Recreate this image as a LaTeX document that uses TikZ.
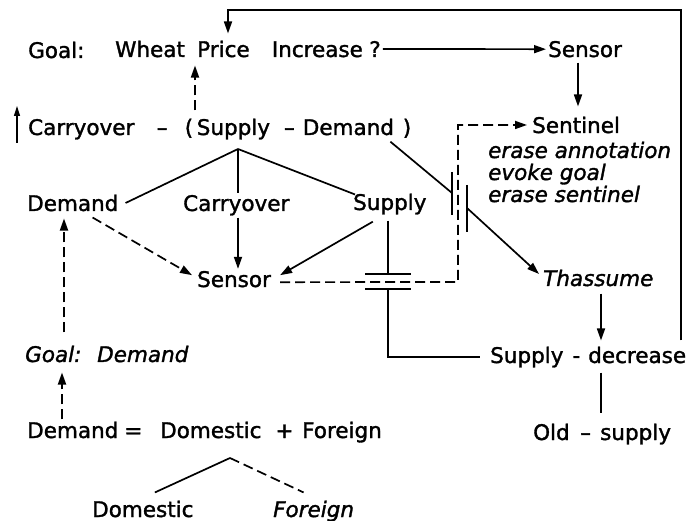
\documentclass[tikz,border=0pt]{standalone}
\usepackage{fontspec}
\setmainfont{DejaVu Sans}[ItalicFont={DejaVu Sans Oblique},FakeBold=1.5,AutoFakeBold=0]
\usetikzlibrary{arrows.meta}
\begin{document}
\begin{tikzpicture}[x=1pt,y=-1pt,
  txt/.style={inner sep=2pt, anchor=base west, font=\fontsize{21.5}{24}\selectfont},
  itx/.style={txt, font=\fontsize{21.5}{24}\selectfont\itshape},
  ln/.style={line width=1.7pt},
  arrtip/.style={-{Triangle[length=12pt,width=8pt]}},
  arr/.style={ln,arrtip},
  dsh/.style={ln,dash pattern=on 10pt off 5pt},
  darr/.style={dsh,arrtip},
  plate/.style={line width=2.3pt}]
\fill[white] (0,0) rectangle (691,521);
\useasboundingbox (0,0) rectangle (691,521);

% texts
\node[txt] (goal) at (26,58) {Goal:};
\node[txt] (wpi) at (113,57) {Wheat\hspace{12.3pt}Price\hspace{22.2pt}Increase\hspace{6.5pt}?};
\node[txt] (sensorA) at (546,57) {Sensor};
\node[txt] (expr) at (26,135) {Carryover\hspace{22.5pt}–\hspace{17.2pt}(\hspace{3.6pt}Supply\hspace{14pt}–\hspace{8pt}Demand\hspace{8.8pt})};
\node[txt] (sentinel) at (530,133) {Sentinel};
\node[itx] (an1) at (486,158) {erase annotation};
\node[itx] (an2) at (486,180) {evoke goal};
\node[itx] (an3) at (486,202) {erase sentinel};
\node[txt] (demand) at (25,211) {Demand};
\node[txt] (carry) at (181,211) {Carryover};
\node[txt] (supply) at (351,210) {Supply};
\node[txt] (sensorB) at (195,287) {Sensor};
\node[itx] (thassume) at (541,286) {Thassume};
\node[txt] (supdec) at (488,363) {Supply\hspace{9pt}-\hspace{8pt}decrease};
\node[itx] (goaldem) at (23,362) {Goal:\hspace{15.8pt}Demand};
\node[txt] (demeq) at (25,438) {Demand\hspace{6pt}=\hspace{17.8pt}Domestic\hspace{14pt}+\hspace{8.7pt}Foreign};
\node[txt] (oldsup) at (531,440) {Old\hspace{10.5pt}–\hspace{9.2pt}supply};
\node[txt] (dom2) at (90,517) {Domestic};
\node[itx] (forn2) at (271,517) {Foreign};

% helper coordinates
\coordinate (fL) at (228,10);
\coordinate (fR) at (681,10);
\coordinate (colS) at (578,0);
\coordinate (colP) at (195,0);
\coordinate (uA) at (17,106);
\coordinate (uB) at (17,143);
\coordinate (j1) at (238,149);
\coordinate (cBR) at (458,282);
\coordinate (c1t) at (388,274);
\coordinate (c1b) at (388,289);
\coordinate (p1) at (452,193);
\coordinate (p2) at (467,208);
\coordinate (colT) at (601,0);
\coordinate (colG) at (64,0);
\coordinate (colH) at (62,0);
\coordinate (j2) at (230,458);

% connectors
\draw[arr, shorten <=4pt, shorten >=5pt] (supdec.north -| fR) -- (fR) -- (fL) -- (fL |- wpi.north);
\draw[arr] (wpi.east) -- (sensorA.west);
\draw[arr, shorten <=3pt, shorten >=8pt] (sensorA.south -| colS) -- (sentinel.north -| colS);
\draw[darr, shorten <=6pt, shorten >=6pt] (expr.north -| colP) -- (wpi.south -| colP);
\draw[ln, line width=1.3pt, -{Triangle[length=10pt,width=6pt]}] (uB) -- (uA);

\draw[ln] (j1) -- ([xshift=5pt]demand.east);
\draw[ln] (j1) -- (j1 |- carry.north);
\draw[ln] (j1) -- ([shift={(4,3)}]supply.north west);
\draw[arr] (carry.south -| j1) -- (sensorB.north -| j1);
\draw[darr] ([shift={(-28,4)}]demand.south east) -- ([shift={(-3,-4)}]sensorB.west);
\draw[arr] ([shift={(-17,5)}]supply.south) -- ([shift={(7,-4)}]sensorB.east);
\draw[darr] ([shift={(7,3)}]sensorB.east) -- (cBR) -- (cBR |- sentinel.west) -- ([xshift=-3pt]sentinel.west);

% capacitor 1
\draw[ln, shorten <=4pt] (c1t |- supply.south) -- (c1t);
\draw[plate] ([xshift=-23pt]c1t) -- ([xshift=23pt]c1t);
\draw[plate] ([xshift=-23pt]c1b) -- ([xshift=23pt]c1b);
\draw[ln, shorten >=8pt] (c1b) |- (supdec.west);

% capacitor 2
\draw[ln] ([xshift=-23pt]expr.south east) -- (p1);
\draw[plate] ([yshift=21pt]p1) -- ([yshift=-22pt]p1);
\draw[plate] ([yshift=23pt]p2) -- ([yshift=-24pt]p2);
\draw[arr] (p2) -- ([shift={(-2,-4)}]thassume.west);

\draw[arr, shorten <=5pt, shorten >=4pt] (thassume.south -| colT) -- (supdec.north -| colT);
\draw[ln, shorten <=3pt, shorten >=8pt] (supdec.south -| colT) -- (oldsup.north -| colT);

\draw[darr, shorten <=11pt, shorten >=5pt] (goaldem.north -| colG) -- (demand.south -| colG);
\draw[darr, shorten >=8pt] (demeq.north -| colH) -- (goaldem.south -| colH);

\draw[ln] (j2) -- ([shift={(12,-6)}]dom2.north);
\draw[dsh] (j2) -- ([shift={(-10,-6)}]forn2.north);
\end{tikzpicture}
\end{document}
